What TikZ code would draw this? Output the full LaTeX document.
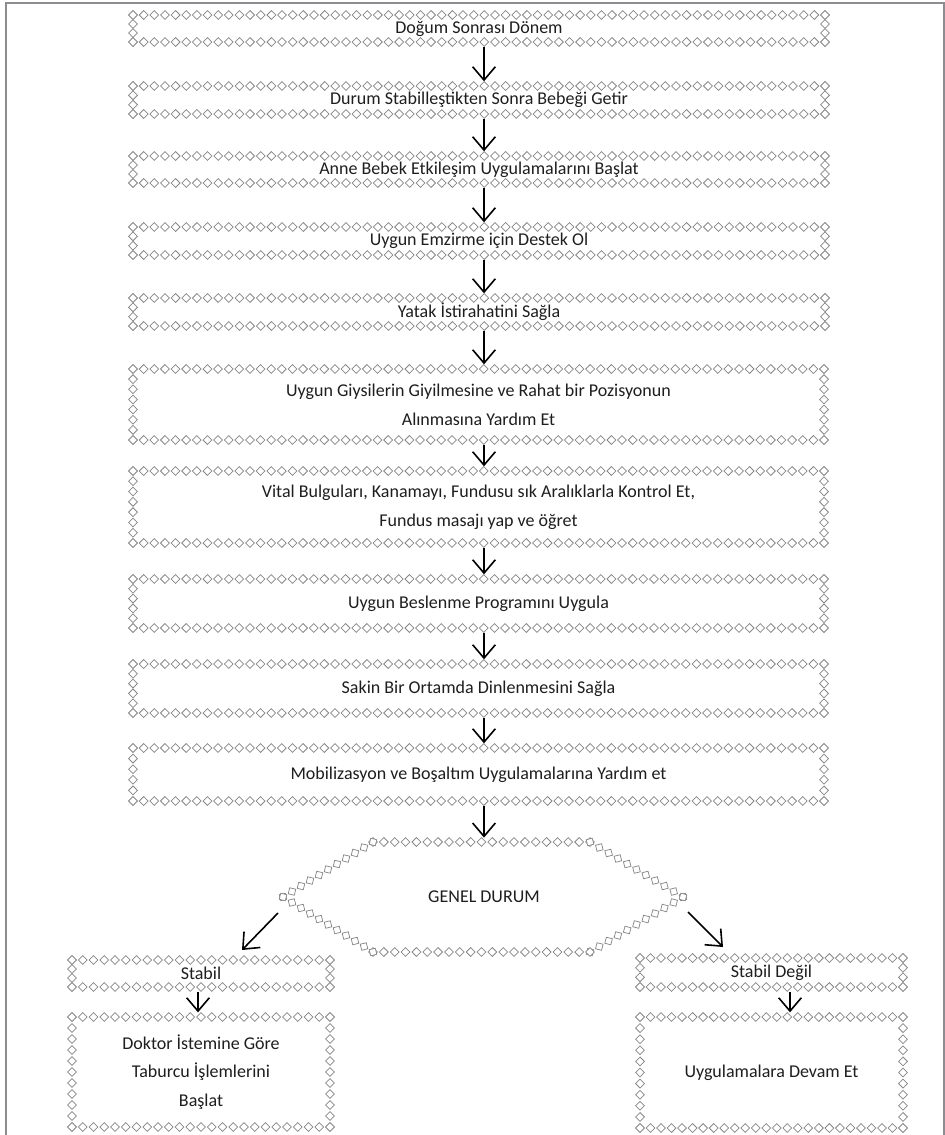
\documentclass[tikz,border=0pt]{standalone}
\usepackage{fontspec}
\setmainfont{Carlito}
\usetikzlibrary{arrows.meta}
\definecolor{diacol}{RGB}{135,135,135}
\definecolor{framecol}{RGB}{140,140,145}
\definecolor{txtcol}{RGB}{30,30,30}
\tikzset{
  diast/.style={draw=diacol, line width=0.55pt, fill=white},
  boxtext/.style={inner sep=0pt, align=center, text=txtcol, font=\fontsize{13.5}{21.6}\selectfont},
  arr/.style={draw=black, line width=1.2pt, -{Straight Barb[length=10pt, width=17pt]}, shorten <=3.3pt, shorten >=3.3pt},
  darr/.style={arr, shorten <=0pt, shorten >=0pt},
  frameline/.style={draw=framecol, line width=1.5pt},
}
% chain of diamonds along a straight segment, coordinates in px
\newcommand\dseg[4]{%
  \pgfmathsetmacro\dlen{100*veclen(((#3)-(#1))/100,((#4)-(#2))/100)}%
  \pgfmathtruncatemacro\dn{max(1,round(\dlen/10.6))}%
  \pgfmathsetmacro\dang{atan2((#4)-(#2),(#3)-(#1))}%
  \pgfmathsetmacro\dsx{((#3)-(#1))/\dn}%
  \pgfmathsetmacro\dsy{((#4)-(#2))/\dn}%
  \foreach \i in {0,...,\dn}{%
    \pgfmathsetmacro\dpx{#1+\dsx*\i}%
    \pgfmathsetmacro\dpy{#2+\dsy*\i}%
    \draw[diast, shift={(\dpx,\dpy)}, rotate=-\dang] (0,4.4)--(4.4,0)--(0,-4.4)--(-4.4,0)--cycle;
  }}
\newcommand\bx[6]{%
  \pgfmathsetmacro\bcx{(#2+#4)/2}%
  \pgfmathsetmacro\bcy{(#3+#5)/2}%
  \pgfmathsetlengthmacro\bw{((#4)-(#2))*0.75pt}%
  \pgfmathsetlengthmacro\bh{((#5)-(#3))*0.75pt}%
  \node[boxtext, minimum width=\bw, minimum height=\bh] (#1) at (\bcx,\bcy) {#6};
  \dseg{#2}{#3}{#4}{#3}\dseg{#4}{#3}{#4}{#5}\dseg{#2}{#5}{#4}{#5}\dseg{#2}{#3}{#2}{#5}}
\begin{document}
\begin{tikzpicture}[x=0.75pt,y=-0.75pt]
\useasboundingbox (0,0) rectangle (945,1135);
\fill[white] (0,0) rectangle (945,1135);
\draw[frameline] (6,1135) -- (6,3) -- (945,3);
\draw[frameline] (944,3) -- (944,1135);

\coordinate (ax) at (484,0);
\coordinate (sx) at (198,0);
\coordinate (ux) at (790,0);

\bx{b1}{133}{15}{825}{42}{Doğum Sonrası Dönem}
\bx{b2}{133}{86}{825}{114}{Durum Stabilleştikten Sonra Bebeği Getir}
\bx{b3}{133}{156}{825}{183}{Anne Bebek Etkileşim Uygulamalarını Başlat}
\bx{b4}{133}{227}{825}{255}{Uygun Emzirme için Destek Ol}
\bx{b5}{133}{298}{825}{326}{Yatak İstirahatini Sağla}
\bx{b6}{133}{369}{824}{440}{Uygun Giysilerin Giyilmesine ve Rahat bir Pozisyonun\\Alınmasına Yardım Et}
\bx{b7}{133}{471}{824}{543}{Vital Bulguları, Kanamayı, Fundusu sık Aralıklarla Kontrol Et,\\Fundus masajı yap ve öğret}
\bx{b8}{133}{579}{824}{628}{Uygun Beslenme Programını Uygula}
\bx{b9}{133}{664}{824}{713}{Sakin Bir Ortamda Dinlenmesini Sağla}
\bx{b10}{133}{748}{824}{801}{Mobilizasyon ve Boşaltım Uygulamalarına Yardım et}

\coordinate (h0) at (484,842);
\node[boxtext] (gd) at (484,897) {GENEL DURUM};
\dseg{373}{842}{590}{842}
\dseg{590}{842}{683}{897}
\dseg{683}{897}{590}{952}
\dseg{590}{952}{373}{952}
\dseg{373}{952}{283}{897}
\dseg{283}{897}{373}{842}

\bx{s1}{72}{960}{330}{987}{Stabil}
\bx{s2}{72}{1017}{330}{1127}{Doktor İstemine Göre\\Taburcu İşlemlerini\\Başlat}
\bx{u1}{640}{958}{903}{987}{Stabil Değil}
\bx{u2}{640}{1017}{903}{1128}{Uygulamalara Devam Et}

\draw[arr] (b1.south -| ax) -- (b2.north -| ax);
\draw[arr] (b2.south -| ax) -- (b3.north -| ax);
\draw[arr] (b3.south -| ax) -- (b4.north -| ax);
\draw[arr] (b4.south -| ax) -- (b5.north -| ax);
\draw[arr] (b5.south -| ax) -- (b6.north -| ax);
\draw[arr] (b6.south -| ax) -- (b7.north -| ax);
\draw[arr] (b7.south -| ax) -- (b8.north -| ax);
\draw[arr] (b8.south -| ax) -- (b9.north -| ax);
\draw[arr] (b9.south -| ax) -- (b10.north -| ax);
\draw[arr] (b10.south -| ax) -- (h0);

\coordinate (dl1) at (278,913);
\coordinate (dl2) at (242,950);
\coordinate (dr1) at (688,912);
\coordinate (dr2) at (723,947);
\draw[darr] (dl1) -- (dl2);
\draw[darr] (dr1) -- (dr2);

\draw[arr] (s1.south -| sx) -- (s2.north -| sx);
\draw[arr] (u1.south -| ux) -- (u2.north -| ux);
\end{tikzpicture}
\end{document}
